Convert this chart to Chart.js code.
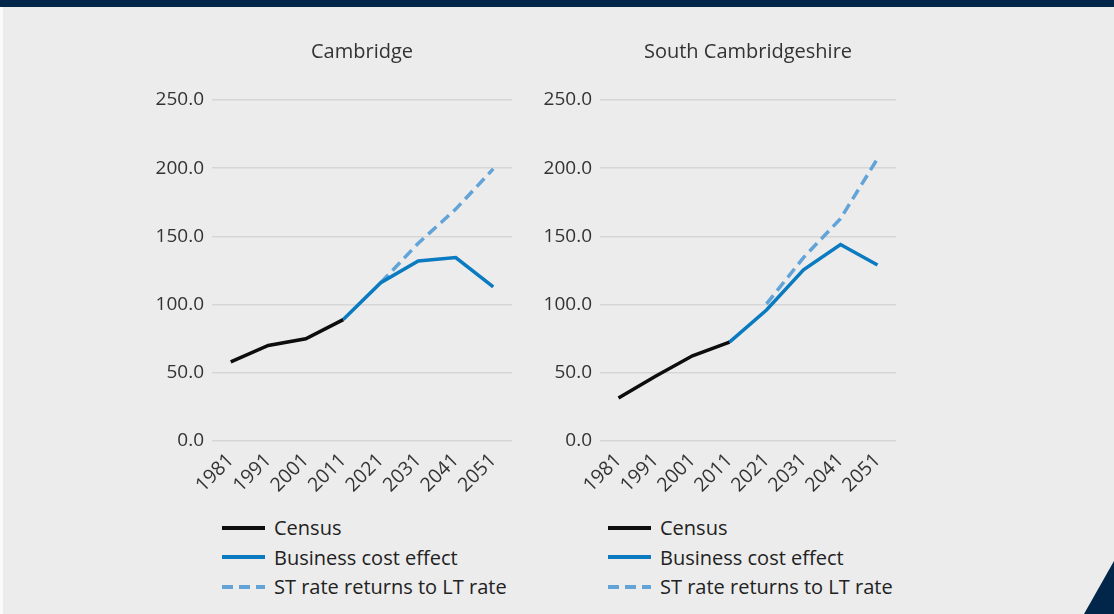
<!DOCTYPE html>
<html>
<head>
<meta charset="utf-8">
<script src="https://cdn.jsdelivr.net/npm/chart.js@4.4.1/dist/chart.umd.min.js"></script>
<style>
  html, body { margin: 0; padding: 0; }
  body { width: 1114px; height: 614px; background: #ececec; position: relative; overflow: hidden; font-family: "Open Sans", sans-serif; }
  .topbar { position: absolute; left: 0; top: 0; width: 1114px; height: 7px; background: #02254a; }
  .edge { position: absolute; left: 0; top: 7px; width: 3px; height: 607px; background: #fafafa; }
  .corner { position: absolute; right: 0; bottom: 0; width: 30px; height: 53px; background: #02254a; clip-path: polygon(100% 0, 100% 100%, 0 100%); }
  .box { position: absolute; top: 30px; height: 470px; }
  .legend { position: absolute; top: 513px; font-size: 20px; color: #222; }
  .legend div { height: 29.5px; display: flex; align-items: center; }
  .legend span.s { display: inline-block; width: 43px; height: 4px; margin-right: 9px; }
</style>
</head>
<body>
<div class="topbar"></div>
<div class="edge"></div>
<div class="corner"></div>

<div class="box" style="left:140px;width:380px"><canvas id="camChart"></canvas></div>
<div class="box" style="left:528px;width:376px"><canvas id="southChart"></canvas></div>

<div class="legend" id="camLegend" style="left:222px"></div>
<div class="legend" id="southLegend" style="left:608px"></div>

<script>
const years = ['1981', '1991', '2001', '2011', '2021', '2031', '2041', '2051'];
const yTicks = [0, 50, 100, 150, 200, 250];
const seriesNames = ['Census', 'Business cost effect', 'ST rate returns to LT rate'];

// Cambridge
const camCensus   = [58, 70, 75, 89, null, null, null, null];
const camBusiness = [null, null, null, 89, 116, 132, 134.5, 113];
const camSTrate   = [null, null, null, null, 116, 145, 170, 199.5];

// South Cambridgeshire
const southCensus   = [31.5, 47.5, 62.5, 72.5, null, null, null, null];
const southBusiness = [null, null, null, 72.5, 96, 125.5, 144, 129];
const southSTrate   = [null, null, null, null, 100.5, 134.5, 163, 207];

const colours = ['#0d0d0d', '#0a7bc1', '#62a3d8'];
const dashes = [[], [], [11, 6]];

// draws the title centred over the plot area
const centerTitle = {
  id: 'centerTitle',
  afterDraw(chart, args, opts) {
    const { ctx, chartArea } = chart;
    ctx.save();
    ctx.font = '20px "Open Sans"';
    ctx.fillStyle = '#333';
    ctx.textAlign = 'center';
    ctx.textBaseline = 'middle';
    ctx.fillText(opts.text, (chartArea.left + chartArea.right) / 2, 22);
    ctx.restore();
  }
};

function makeChart(id, title, census, business, strate) {
  const data = [census, business, strate];
  new Chart(document.getElementById(id).getContext('2d'), {
    type: 'line',
    data: {
      labels: years,
      datasets: seriesNames.map((name, i) => ({
        label: name,
        data: data[i],
        borderColor: colours[i],
        borderDash: dashes[i],
        borderWidth: 3.5,
        pointRadius: 0,
        tension: 0,
        spanGaps: false
      }))
    },
    plugins: [centerTitle],
    options: {
      responsive: true,
      maintainAspectRatio: false,
      animation: false,
      layout: { padding: { top: 70, right: 8, left: 0, bottom: 0 } },
      plugins: {
        legend: { display: false },
        tooltip: { enabled: false },
        centerTitle: { text: title }
      },
      scales: {
        x: {
          offset: true,
          grid: { display: false },
          border: { display: false },
          afterFit: (scale) => { scale.height = 59; },
          ticks: {
            autoSkip: false,
            minRotation: 45, maxRotation: 45, padding: 0,
            color: '#333', font: { family: 'Open Sans', size: 19.5 }
          }
        },
        y: {
          min: 0, max: 250,
          afterFit: (scale) => { scale.width = 72; },
          afterBuildTicks: (scale) => { scale.ticks = yTicks.map(v => ({ value: v })); },
          grid: { color: '#d6d6d6', lineWidth: 1.5, drawTicks: false },
          border: { display: false },
          ticks: {
            padding: 8,
            color: '#333', font: { family: 'Open Sans', size: 19 },
            callback: (v) => Number(v).toFixed(1)
          }
        }
      }
    }
  });
}

function makeLegend(id) {
  const el = document.getElementById(id);
  seriesNames.forEach((name, i) => {
    const bg = dashes[i].length
      ? `repeating-linear-gradient(to right, ${colours[i]} 0 11px, transparent 11px 17px)`
      : colours[i];
    el.innerHTML += `<div><span class="s" style="background:${bg}"></span>${name}</div>`;
  });
}

makeChart('camChart', 'Cambridge', camCensus, camBusiness, camSTrate);
makeChart('southChart', 'South Cambridgeshire', southCensus, southBusiness, southSTrate);
makeLegend('camLegend');
makeLegend('southLegend');
</script>
</body>
</html>
